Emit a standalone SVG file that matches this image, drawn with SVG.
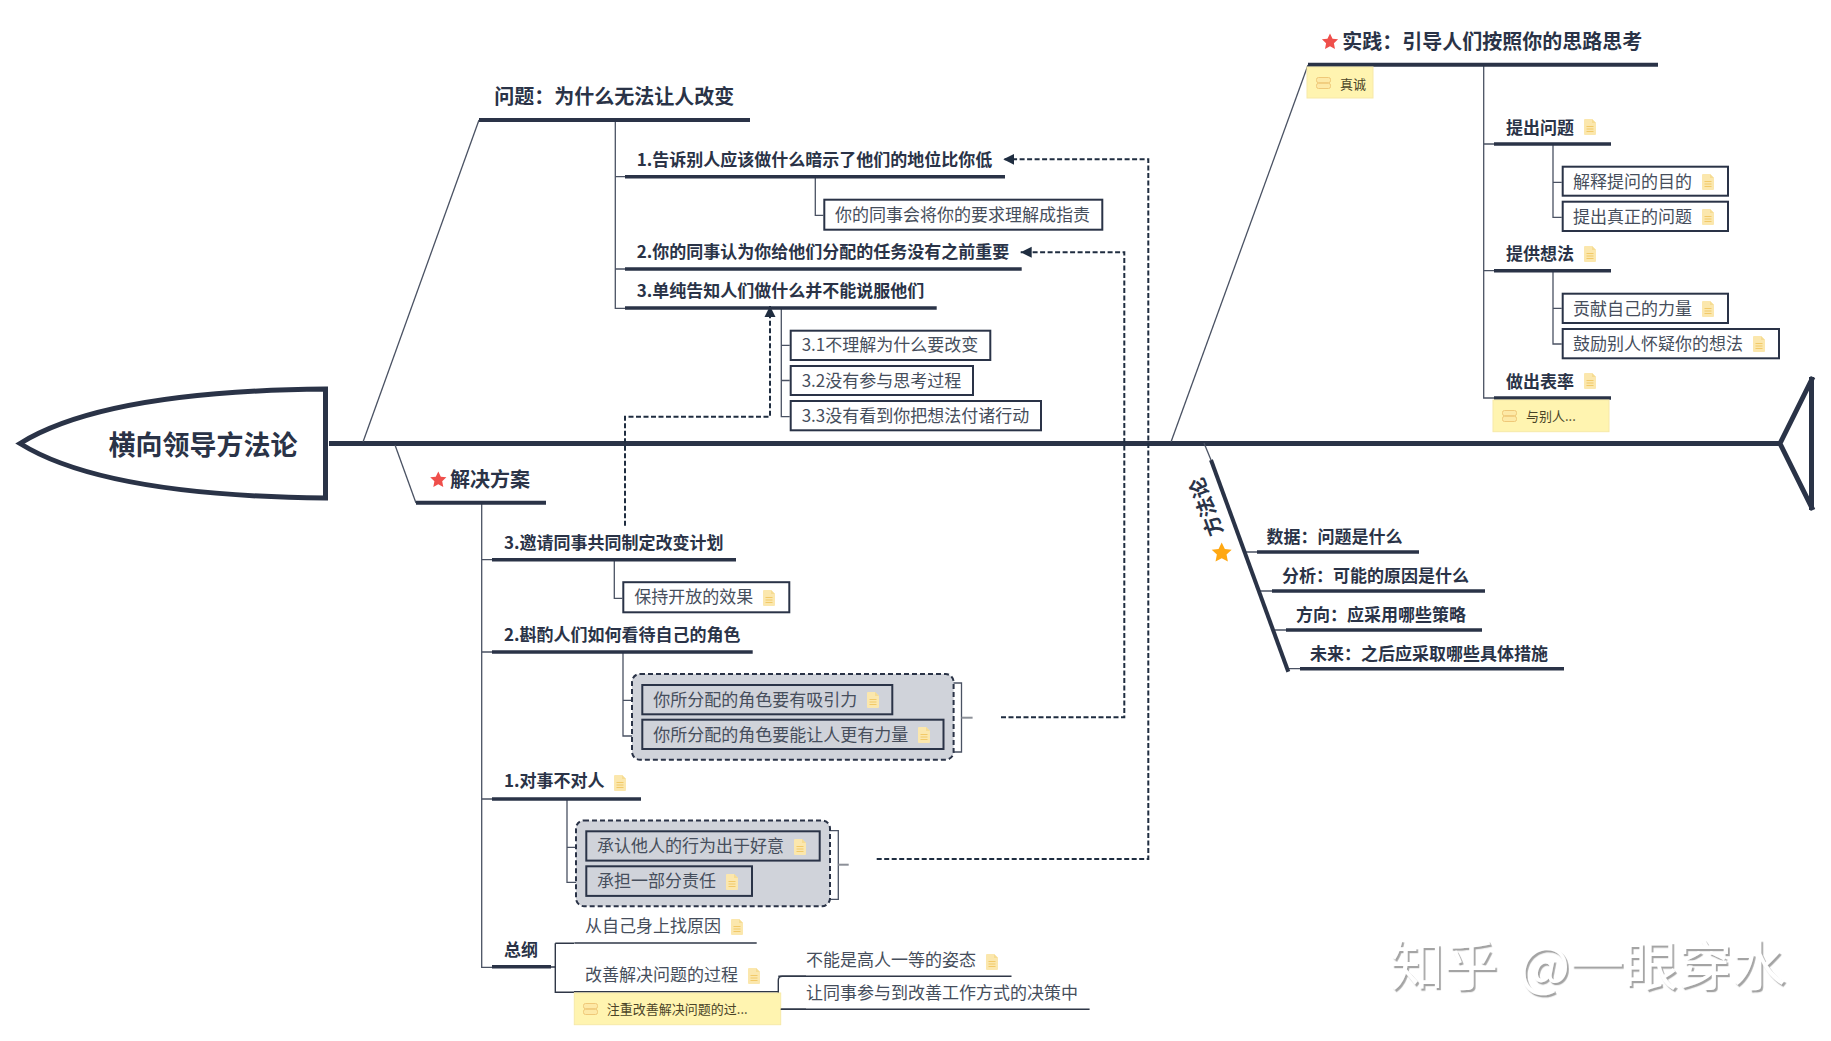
<svg xmlns="http://www.w3.org/2000/svg" xmlns:xlink="http://www.w3.org/1999/xlink" width="1831" height="1041" viewBox="0 0 1831 1041">
<style>
text{font-family:"Noto Sans CJK SC","Noto Sans",sans-serif;fill:#464e5c}
.h1{font-size:27px;font-weight:700;fill:#2a3347}
.h2{font-size:20px;font-weight:700;fill:#2a3347}
.h3{font-size:17px;font-weight:700;fill:#2a3347}
.p{font-size:17px;font-weight:400}
.n{font-size:13px;fill:#4a4428}
.u4{stroke:#2a3347;stroke-width:4;fill:none}
.u3{stroke:#2a3347;stroke-width:3.5;fill:none}
.u1{stroke:#2f3747;stroke-width:1.5;fill:none}
.box{fill:#fff;stroke:#2a3347;stroke-width:2}
.gbox{fill:#d0d3da;stroke:#2a3347;stroke-width:2}
.grp{fill:#d0d3da;stroke:#2a3347;stroke-width:2;stroke-dasharray:5 3}
.note{fill:#fff4b0;stroke:#f7e9a8;stroke-width:1}
.c{stroke:#4a5263;stroke-width:1.3;fill:none}
.d{stroke:#1f2d40;stroke-width:2;fill:none;stroke-dasharray:5 2.5}
.stub{stroke:#8c9098;stroke-width:2;fill:none}
.wm{font-size:54px;fill:#fff;font-weight:400;filter:url(#emb)}
</style>
<defs>
<filter id="emb" x="-5%" y="-20%" width="110%" height="140%"><feDropShadow dx="1.8" dy="2.2" stdDeviation="0.3" flood-color="#a4a4a4"/></filter>
<marker id="arr" markerUnits="userSpaceOnUse" markerWidth="12" markerHeight="12" refX="11" refY="6" orient="auto"><path d="M0 0.5L11 6L0 11.5Z" fill="#1f2d40"/></marker>
<g id="doc"><path d="M0 1Q0 0 1 0H8L12 4V15Q12 16 11 16H1Q0 16 0 15Z" fill="#fbe7ad"/><path d="M8 0L12 4H8Z" fill="#f6dc92"/><path d="M2.5 7.5H9.5M2.5 10H9.5M2.5 12.5H9.5" stroke="#f2c968" stroke-width="1.2"/></g>
<g id="ni"><rect x="0.5" y="0.5" width="14" height="5.2" rx="2" fill="#fde9a6" stroke="#efc878"/><rect x="0.5" y="6.3" width="14" height="5.2" rx="2" fill="#fde9a6" stroke="#efc878"/></g>
<path id="star" d="M0-10L3-3.8L9.51-3.09L4.6 1.5L5.88 8.09L0 4.9L-5.88 8.09L-4.6 1.5L-9.51-3.09L-3-3.8Z"/>
</defs>
<rect width="1831" height="1041" fill="#fff"/>

<g id="connectors">
<line x1="329" y1="443.5" x2="1780" y2="443.5" stroke="#2a3347" stroke-width="5"/>
<path class="c" d="M363 442L479 120"/>
<path class="c" d="M395 445L416 503"/>
<path class="c" d="M1171 442L1308 65"/>
<path class="c" d="M1204 443L1211 460"/>
<path class="c" d="M615.3 120V308.3H625M615.3 176.7H625M615.3 269H625"/>
<path class="c" d="M815.3 177V215.3H823.3"/>
<path class="c" d="M781.3 308V416.7H789.7M781.3 345.3H789.7M781.3 380.5H789.7"/>
<path class="c" d="M481.7 503V967.3H492M481.7 559.7H492M481.7 652H492M481.7 799H492"/>
<path class="c" d="M614.3 560V598.3H622.3"/>
<path class="c" d="M623 652V736H641M623 700.3H641" stroke-width="1.6"/>
<path class="c" d="M567 799V882.3H585M567 847.3H585" stroke-width="1.6"/>
<path class="c" d="M1483.7 65V398H1494M1483.7 144H1494M1483.7 270.7H1494"/>
<path class="c" d="M1553 144V217.3H1561.7M1553 182.3H1561.7"/>
<path class="c" d="M1553 270.7V344H1561.7M1553 308.3H1561.7"/>
<path class="c" d="M1246 552H1257M1260 591H1272M1274.7 630H1286M1288.7 668.7H1300"/>
<path d="M551 967H555.3M555.3 943.3V992.3H574M555.3 943.3H574" stroke="#2f3747" stroke-width="1.4" fill="none"/>
<path d="M774 991.7H778.3V980.3Q778.3 976.3 782.3 976.3H806M778.3 991.7V1009.3H806" stroke="#2f3747" stroke-width="1.4" fill="none"/>
<path d="M953 683H961.5V752H953" class="c"/>
<path d="M961.5 717.7H972.6" class="stub"/>
<path d="M828 830.7H838.3V899.3H828" class="c"/>
<path d="M838.3 864.7H848.7" class="stub"/>
<polyline class="d" marker-end="url(#arr)" points="625,525.7 625,416.7 770,416.7 770,306"/>
<polyline class="d" marker-end="url(#arr)" points="1001,717.3 1124.3,717.3 1124.3,252.3 1020.7,252.3"/>
<polyline class="d" marker-end="url(#arr)" points="876.7,859 1148.3,859 1148.3,159.3 1003.3,159.3"/>
</g>

<g id="node-root">
<path d="M325.5 389C220 390 90 400 20 443.5C90 487 220 497 325.5 498Z" fill="#fff" stroke="#2a3347" stroke-width="5"/>
<text class="h1" x="108.5" y="454.5">横向领导方法论</text>
</g>
<g id="node-tail"><path d="M1813 377L1780 443.5L1813 510M1811.5 377V510" fill="none" stroke="#2a3347" stroke-width="5"/></g>

<g id="node-problem">
<line class="u4" x1="479" y1="120" x2="750" y2="120"/>
<text class="h2" x="494.3" y="104">问题：为什么无法让人改变</text>
</g>
<g id="node-p1">
<line class="u3" x1="625" y1="176.7" x2="1005" y2="176.7"/>
<text class="h3" x="636.7" y="165.7">1.告诉别人应该做什么暗示了他们的地位比你低</text>
</g>
<g id="node-p1a">
<rect class="box" x="824.3" y="199.7" width="278" height="30"/>
<text class="p" x="835" y="221.3">你的同事会将你的要求理解成指责</text>
</g>
<g id="node-p2">
<line class="u3" x1="625" y1="269" x2="1021.7" y2="269"/>
<text class="h3" x="636.7" y="258.2">2.你的同事认为你给他们分配的任务没有之前重要</text>
</g>
<g id="node-p3">
<line class="u3" x1="625" y1="308" x2="936.7" y2="308"/>
<text class="h3" x="636.7" y="297.2">3.单纯告知人们做什么并不能说服他们</text>
</g>
<g id="node-p31">
<rect class="box" x="790.7" y="330.7" width="199.6" height="29.3"/>
<text class="p" x="801.7" y="351.3">3.1不理解为什么要改变</text>
</g>
<g id="node-p32">
<rect class="box" x="790.7" y="366" width="182.3" height="29"/>
<text class="p" x="801.7" y="386.5">3.2没有参与思考过程</text>
</g>
<g id="node-p33">
<rect class="box" x="790.7" y="401" width="250.3" height="29.3"/>
<text class="p" x="801.7" y="421.7">3.3没有看到你把想法付诸行动</text>
</g>

<g id="node-solution">
<line class="u4" x1="416" y1="502.7" x2="546" y2="502.7"/>
<use href="#star" transform="translate(438.3 480) scale(.85)" fill="#ef4f4b"/>
<text class="h2" x="450" y="486.7">解决方案</text>
</g>
<g id="node-s3">
<line class="u3" x1="492" y1="559.7" x2="736" y2="559.7"/>
<text class="h3" x="504" y="549">3.邀请同事共同制定改变计划</text>
</g>
<g id="node-s3a">
<rect class="box" x="623.3" y="582.2" width="166" height="30.1"/>
<text class="p" x="634.3" y="603.2">保持开放的效果</text>
<use href="#doc" x="763" y="590"/>
</g>
<g id="node-s2">
<line class="u3" x1="492" y1="652" x2="752.7" y2="652"/>
<text class="h3" x="504" y="640.7">2.斟酌人们如何看待自己的角色</text>
</g>
<g id="node-s2group"><rect class="grp" x="632" y="674" width="321.6" height="85.7" rx="8"/></g>
<g id="node-s2a">
<rect class="gbox" x="642.3" y="685" width="250" height="29.3"/>
<text class="p" x="653.3" y="706">你所分配的角色要有吸引力</text>
<use href="#doc" x="867" y="692"/>
</g>
<g id="node-s2b">
<rect class="gbox" x="642.3" y="719.7" width="301.2" height="29.3"/>
<text class="p" x="653.3" y="741">你所分配的角色要能让人更有力量</text>
<use href="#doc" x="918" y="727"/>
</g>
<g id="node-s1">
<line class="u3" x1="492" y1="799" x2="641" y2="799"/>
<text class="h3" x="504" y="787.2">1.对事不对人</text>
<use href="#doc" x="614" y="775"/>
</g>
<g id="node-s1group"><rect class="grp" x="576" y="820.5" width="254" height="85.7" rx="8"/></g>
<g id="node-s1a">
<rect class="gbox" x="586.3" y="831.3" width="233.4" height="29.3"/>
<text class="p" x="597" y="852">承认他人的行为出于好意</text>
<use href="#doc" x="794" y="839"/>
</g>
<g id="node-s1b">
<rect class="gbox" x="586.3" y="866.3" width="165.7" height="29.6"/>
<text class="p" x="597" y="887.3">承担一部分责任</text>
<use href="#doc" x="726" y="874"/>
</g>
<g id="node-s0">
<line class="u3" x1="492" y1="966.7" x2="551" y2="966.7"/>
<text class="h3" x="504" y="956">总纲</text>
</g>
<g id="node-s01">
<line class="u1" x1="574.3" y1="943" x2="756.7" y2="943"/>
<text class="p" x="585" y="932.3">从自己身上找原因</text>
<use href="#doc" x="731" y="919"/>
</g>
<g id="node-s02">
<line class="u1" x1="574" y1="991.7" x2="774" y2="991.7"/>
<text class="p" x="585" y="981">改善解决问题的过程</text>
<use href="#doc" x="748" y="968"/>
</g>
<g id="node-s02note">
<rect class="note" x="574.3" y="993" width="206.4" height="31.7"/>
<use href="#ni" x="583" y="1003"/>
<text class="n" x="606.8" y="1013.8">注重改善解决问题的过...</text>
</g>
<g id="node-s021">
<line class="u1" x1="778.3" y1="976.3" x2="1011.5" y2="976.3"/>
<text class="p" x="806" y="966">不能是高人一等的姿态</text>
<use href="#doc" x="986" y="954"/>
</g>
<g id="node-s022">
<line class="u1" x1="780.7" y1="1009.3" x2="1089.6" y2="1009.3"/>
<text class="p" x="806" y="999">让同事参与到改善工作方式的决策中</text>
</g>

<g id="node-practice">
<line class="u4" x1="1308" y1="64.7" x2="1658" y2="64.7"/>
<use href="#star" transform="translate(1330 42) scale(.85)" fill="#ef4f4b"/>
<text class="h2" x="1342.3" y="49">实践：引导人们按照你的思路思考</text>
</g>
<g id="node-practice-note">
<rect class="note" x="1307" y="67" width="66" height="31"/>
<use href="#ni" x="1316" y="77"/>
<text class="n" x="1340" y="89">真诚</text>
</g>
<g id="node-r1">
<line class="u3" x1="1494" y1="144" x2="1611" y2="144"/>
<text class="h3" x="1506" y="133.7">提出问题</text>
<use href="#doc" x="1584" y="119"/>
</g>
<g id="node-r1a">
<rect class="box" x="1562.7" y="166.7" width="165.3" height="29"/>
<text class="p" x="1573" y="188.3">解释提问的目的</text>
<use href="#doc" x="1702" y="174"/>
</g>
<g id="node-r1b">
<rect class="box" x="1562.7" y="201.7" width="165.3" height="29.3"/>
<text class="p" x="1573" y="223.3">提出真正的问题</text>
<use href="#doc" x="1702" y="209"/>
</g>
<g id="node-r2">
<line class="u3" x1="1494" y1="270.7" x2="1611" y2="270.7"/>
<text class="h3" x="1506" y="260">提供想法</text>
<use href="#doc" x="1584" y="246"/>
</g>
<g id="node-r2a">
<rect class="box" x="1562.7" y="293.7" width="165.3" height="29.3"/>
<text class="p" x="1573" y="315">贡献自己的力量</text>
<use href="#doc" x="1702" y="301"/>
</g>
<g id="node-r2b">
<rect class="box" x="1562.7" y="329" width="216.3" height="29.3"/>
<text class="p" x="1573" y="350">鼓励别人怀疑你的想法</text>
<use href="#doc" x="1753" y="336"/>
</g>
<g id="node-r3">
<line class="u3" x1="1494" y1="398" x2="1611" y2="398"/>
<text class="h3" x="1506" y="387.7">做出表率</text>
<use href="#doc" x="1584" y="373"/>
</g>
<g id="node-r3note">
<rect class="note" x="1493" y="400" width="116" height="31.7"/>
<use href="#ni" x="1502" y="410"/>
<text class="n" x="1526" y="421">与别人...</text>
</g>

<g id="node-method">
<line x1="1211" y1="460" x2="1288.3" y2="671.7" stroke="#2a3347" stroke-width="4"/>
<text class="h2" text-anchor="middle" transform="translate(1213 504.5) rotate(-110)">方法论</text>
<use href="#star" transform="translate(1221.7 553) scale(1.05)" fill="#ffa812"/>
</g>
<g id="node-m1">
<line class="u3" x1="1257" y1="552" x2="1419" y2="552"/>
<text class="h3" x="1266.5" y="543.3">数据：问题是什么</text>
</g>
<g id="node-m2">
<line class="u3" x1="1272" y1="591" x2="1485" y2="591"/>
<text class="h3" x="1282" y="582.3">分析：可能的原因是什么</text>
</g>
<g id="node-m3">
<line class="u3" x1="1286" y1="630" x2="1482" y2="630"/>
<text class="h3" x="1296" y="621">方向：应采用哪些策略</text>
</g>
<g id="node-m4">
<line class="u3" x1="1300" y1="668.7" x2="1564" y2="668.7"/>
<text class="h3" x="1310" y="660">未来：之后应采取哪些具体措施</text>
</g>

<text class="wm" x="1390" y="986">知乎<tspan x="1519">@一眼穿水</tspan></text>
</svg>
